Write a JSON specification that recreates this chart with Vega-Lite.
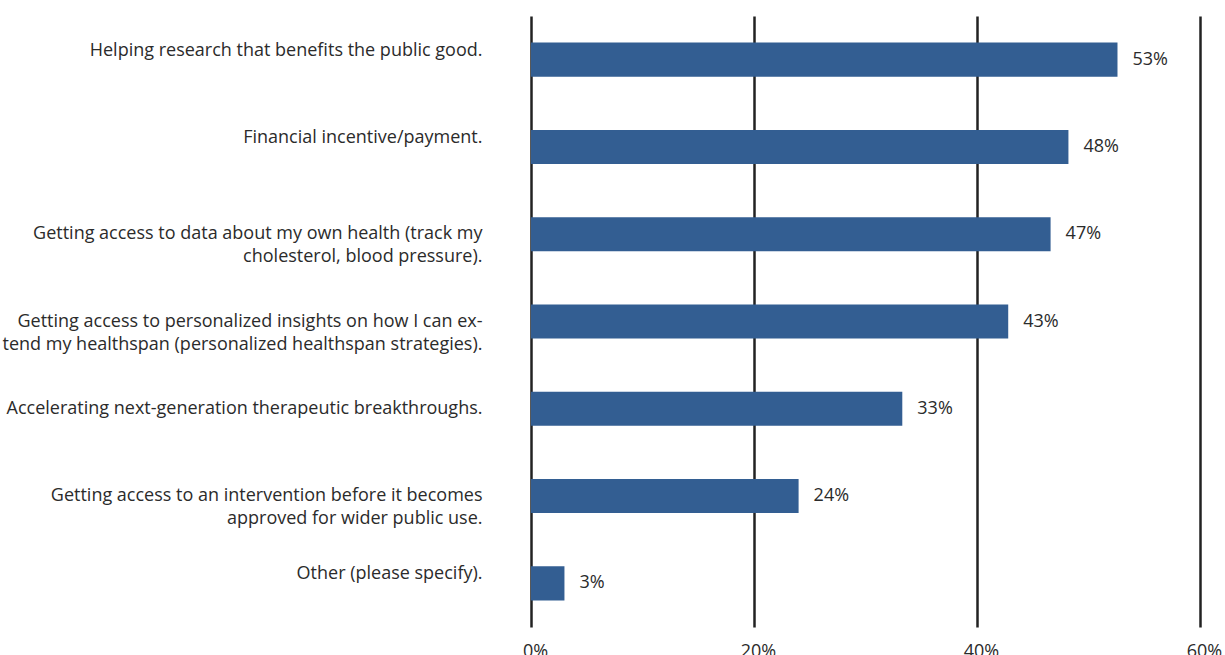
{
  "$schema": "https://vega.github.io/schema/vega-lite/v6.json",
  "autosize": "none",
  "padding": {"left": 531, "top": 16, "right": 25, "bottom": 28},
  "width": 669,
  "height": 611,
  "background": "white",
  "config": {
    "view": {"stroke": null},
    "font": "Open Sans",
    "text": {"font": "Open Sans"}
  },
  "data": {
    "values": [
      {"reason": "Helping research that benefits the public good.", "value": 0.526, "label": "53%"},
      {"reason": "Financial incentive/payment.", "value": 0.482, "label": "48%"},
      {"reason": "Getting access to data about my own health (track my|cholesterol, blood pressure).", "value": 0.466, "label": "47%"},
      {"reason": "Getting access to personalized insights on how I can ex-|tend my healthspan (personalized healthspan strategies).", "value": 0.428, "label": "43%"},
      {"reason": "Accelerating next-generation therapeutic breakthroughs.", "value": 0.333, "label": "33%"},
      {"reason": "Getting access to an intervention before it becomes|approved for wider public use.", "value": 0.240, "label": "24%"},
      {"reason": "Other (please specify).", "value": 0.030, "label": "3%"}
    ]
  },
  "encoding": {
    "y": {
      "field": "reason",
      "type": "nominal",
      "sort": null,
      "scale": {"paddingInner": 0.61, "paddingOuter": 0.305},
      "axis": {
        "title": null,
        "domain": false,
        "ticks": false,
        "labelExpr": "split(datum.label, '|')",
        "labelFont": "Open Sans",
        "labelFontSize": 18,
        "labelColor": "#2b2b2b",
        "labelPadding": 49,
        "labelLineHeight": 23,
        "labelLimit": 600,
        "labelOffset": {
          "condition": {"test": "indexof(datum.value, 'Helping') == 0 || indexof(datum.value, 'Financial') == 0 || indexof(datum.value, 'Other') == 0", "value": -9},
          "value": 0
        }
      }
    },
    "x": {
      "field": "value",
      "type": "quantitative",
      "scale": {"domain": [0, 0.6], "nice": false},
      "axis": {
        "title": null,
        "values": [0, 0.2, 0.4, 0.6],
        "format": ".0%",
        "domain": false,
        "ticks": false,
        "grid": true,
        "gridColor": "#222222",
        "gridWidth": 2.5,
        "gridOpacity": 1,
        "labelFont": "Open Sans",
        "labelFontSize": 18,
        "labelColor": "#2b2b2b",
        "labelPadding": 15,
        "labelOffset": 4,
        "labelFlush": false
      }
    }
  },
  "layer": [
    {"mark": {"type": "bar", "color": "#335e92"}},
    {
      "mark": {"type": "text", "align": "left", "baseline": "middle", "dx": 15, "fontSize": 18, "color": "#2b2b2b", "font": "Open Sans"},
      "encoding": {"text": {"field": "label"}}
    }
  ]
}
